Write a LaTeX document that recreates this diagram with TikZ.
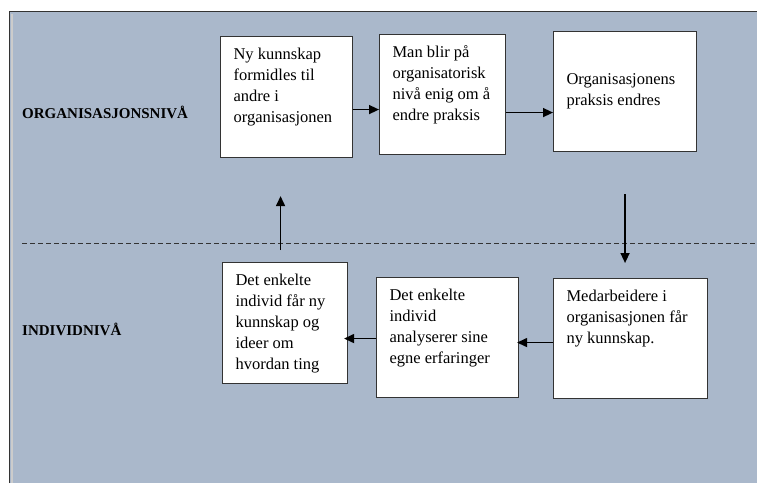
\documentclass[tikz,border=0pt]{standalone}
\usepackage{fontspec}
\setmainfont{Liberation Serif}
\usetikzlibrary{arrows.meta, positioning}

\definecolor{panelblue}{HTML}{AAB8CB}
\definecolor{boxline}{HTML}{333333}

% box text set at the top left, fixed size
\newcommand{\boxtext}[3]{\parbox[t][#2pt][t]{#1pt}{\raggedright #3}}

\begin{document}
\begin{tikzpicture}[x=1pt, y=-1pt, every node/.style={font=\fontsize{16.5}{21}\selectfont}]
\tikzstyle{step box} = [rectangle, draw=boxline, fill=white, line width=1.1pt, anchor=north west, inner xsep=13pt, inner ysep=11pt]
\tikzstyle{level} = [anchor=base west, inner sep=0pt, font=\fontsize{15}{18}\selectfont\bfseries]
\tikzstyle{flow} = [-{Triangle[length=10pt,width=9pt]}, line width=1.5pt]

\useasboundingbox (0,0) rectangle (757,483);

% panel
\fill[panelblue] (10,12) rectangle (757,483);
\draw[gray!40, line width=2pt] (11.5,13.5) -- (11.5,483);
\draw[boxline, line width=1.2pt] (9.5,483) -- (9.5,11.5) -- (757,11.5);

% level labels
\node[level] (orglabel) at (22,118) {ORGANISASJONSNIVÅ};
\node[level] (indlabel) at (22,335) {INDIVIDNIVÅ};

% divider
\draw[boxline, dashed, dash pattern=on 5pt off 3pt, line width=1pt] (22,243) -- (757,243);

% organisation level
\node[step box] (share) at (220,36) {\boxtext{106}{99}{Ny kunnskap\\formidles til\\andre i\\organisasjonen}};
\node[step box] (agree) at (379,34) {\boxtext{100}{98}{Man blir på\\organisatorisk\\nivå enig om å\\endre praksis}};
\node[step box] (change) at (553,31) {\boxtext{117}{98}{\vspace*{31pt}Organisasjonens\\praksis endres}};

% individual level
\node[step box] (staff) at (553,278) {\boxtext{128}{98}{Medarbeidere i\\organisasjonen får\\ny kunnskap.}};
\node[step box] (analyse) at (376,277) {\boxtext{116}{98}{Det enkelte\\individ\\analyserer sine\\egne erfaringer}};
\node[step box] (ideas) at (222,262) {\boxtext{99}{99}{Det enkelte\\individ får ny\\kunnskap og\\ideer om\\hvordan ting}};

% arrows
\draw[flow] ([yshift=-12.5pt]share.east) -- ([yshift=-12.5pt]share.east -| agree.west);
\draw[flow] ([yshift=-18pt]agree.east) -- ([yshift=-18pt]agree.east -| change.west);
\draw[flow] ([yshift=-42pt]change.south) -- ([yshift=15pt]staff.north -| change.south);
\draw[flow] ([yshift=-4pt]staff.west) -- ([yshift=-4pt,xshift=-2pt]staff.west -| analyse.east);
\draw[flow] ([yshift=-1pt]analyse.west) -- ([yshift=-1pt,xshift=-4pt]analyse.west -| ideas.east);
\draw[flow] ([xshift=-4.5pt,yshift=12pt]ideas.north) -- ([xshift=-6pt,yshift=-38pt]share.south);
\end{tikzpicture}
\end{document}
